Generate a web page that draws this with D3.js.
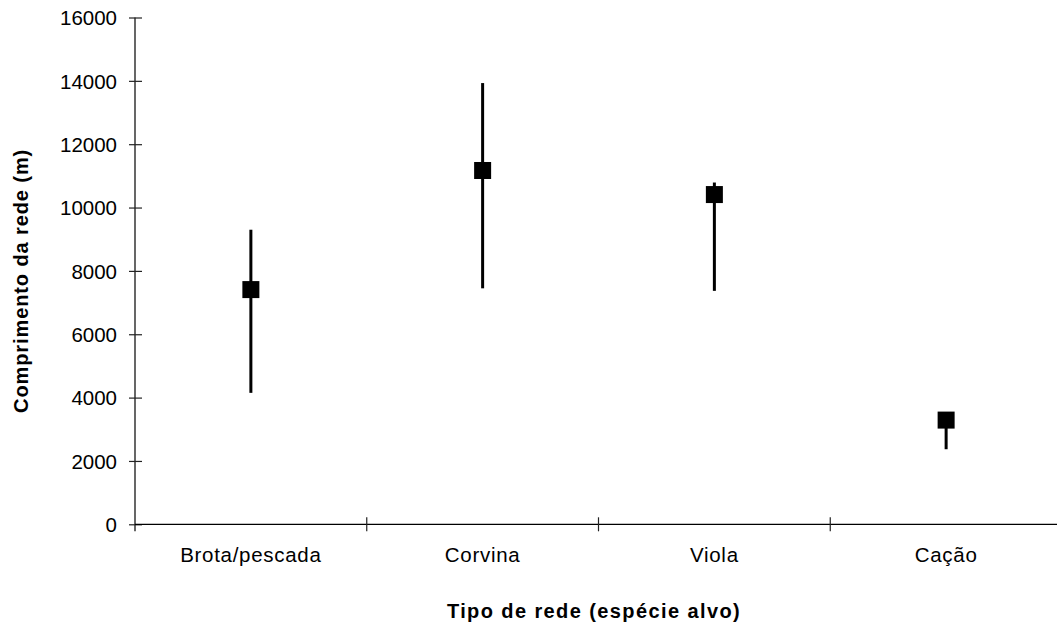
<!DOCTYPE html>
<html>
<head>
<meta charset="utf-8">
<script src="https://cdn.jsdelivr.net/npm/d3@7"></script>
<style>
  html, body { margin: 0; padding: 0; background: #fff; }
  svg { display: block; font-family: "Liberation Sans", Arial, sans-serif; }
</style>
</head>
<body>
<svg id="chart" width="1057" height="630"></svg>
<script>
// Net types and the length of net per type (mean with min/max range)
const categories = ["Brota/pescada", "Corvina", "Viola", "Cação"];
const meanLength = [7410, 11170, 10410, 3290];
const maxLength  = [9300, 13930, 10790, 3400];
const minLength  = [4150, 7450, 7370, 2370];
const yTicks = [0, 2000, 4000, 6000, 8000, 10000, 12000, 14000, 16000];

const yTitle = "Comprimento da rede (m)";
const xTitle = "Tipo de rede (espécie alvo)";

const svg = d3.select("#chart");
const plotLeft = 135, plotRight = 1062, plotTop = 17.5, plotBottom = 524.3;

const x = d3.scaleBand().domain(categories).range([plotLeft, plotRight]).paddingInner(0).paddingOuter(0);
const y = d3.scaleLinear().domain([0, 16000]).range([plotBottom, plotTop]);

// Y axis with ticks crossing the axis line
const yAxis = svg.append("g")
  .attr("transform", `translate(${plotLeft},0)`)
  .call(d3.axisLeft(y).tickValues(yTicks).tickFormat(d3.format("d"))
    .tickSize(6).tickSizeOuter(0).tickPadding(12));
yAxis.select(".domain").attr("d", `M0,${plotTop}V${plotBottom + 7}`).attr("stroke", "#000").attr("stroke-width", 1.2);
yAxis.selectAll(".tick line").attr("x1", -6).attr("x2", 7).attr("stroke", "#222").attr("stroke-width", 1.2);
yAxis.selectAll(".tick text")
  .attr("font-size", "20.5px").attr("fill", "#000")
  .attr("font-family", "'Liberation Sans', Arial, sans-serif")
  .attr("x", -18).attr("dy", "0.35em");

// X axis with boundary ticks between categories
const boundaries = categories.slice(1).map(c => x(c));
const xAxis = svg.append("g").attr("transform", `translate(0,${plotBottom})`);
xAxis.append("line").attr("x1", plotLeft).attr("x2", 1057).attr("y1", 0).attr("y2", 0)
  .attr("stroke", "#000").attr("stroke-width", 1.2);
xAxis.selectAll("line.bt").data(boundaries).join("line").attr("class", "bt")
  .attr("x1", d => d).attr("x2", d => d).attr("y1", -7).attr("y2", 7)
  .attr("stroke", "#222").attr("stroke-width", 1.2);
xAxis.selectAll("text.cat").data(categories).join("text").attr("class", "cat")
  .attr("x", d => x(d) + x.bandwidth() / 2).attr("y", 38)
  .attr("text-anchor", "middle").attr("font-size", "20.5px").attr("letter-spacing", "0.7px")
  .attr("fill", "#000")
  .text(d => d);

// Range lines and mean markers
const rows = categories.map((c, i) => ({ c, mean: meanLength[i], hi: maxLength[i], lo: minLength[i] }));
const cx = d => x(d.c) + x.bandwidth() / 2;
svg.append("g").selectAll("line").data(rows).join("line")
  .attr("x1", cx).attr("x2", cx)
  .attr("y1", d => y(d.hi)).attr("y2", d => y(d.lo))
  .attr("stroke", "#000").attr("stroke-width", 3);
const sq = 17;
svg.append("g").selectAll("rect").data(rows).join("rect")
  .attr("x", d => cx(d) - sq / 2).attr("y", d => y(d.mean) - sq / 2)
  .attr("width", sq).attr("height", sq).attr("fill", "#000");

// Axis titles
svg.append("text")
  .attr("transform", `translate(28,${(plotTop + plotBottom) / 2 + 10}) rotate(-90)`)
  .attr("text-anchor", "middle").attr("font-weight", "bold").attr("font-size", "20px")
  .attr("letter-spacing", "0.9px").attr("fill", "#000")
  .text(yTitle);
svg.append("text")
  .attr("x", 594).attr("y", 618)
  .attr("text-anchor", "middle").attr("font-weight", "bold").attr("font-size", "20px")
  .attr("letter-spacing", "1.4px").attr("fill", "#000")
  .text(xTitle);
</script>
</body>
</html>
